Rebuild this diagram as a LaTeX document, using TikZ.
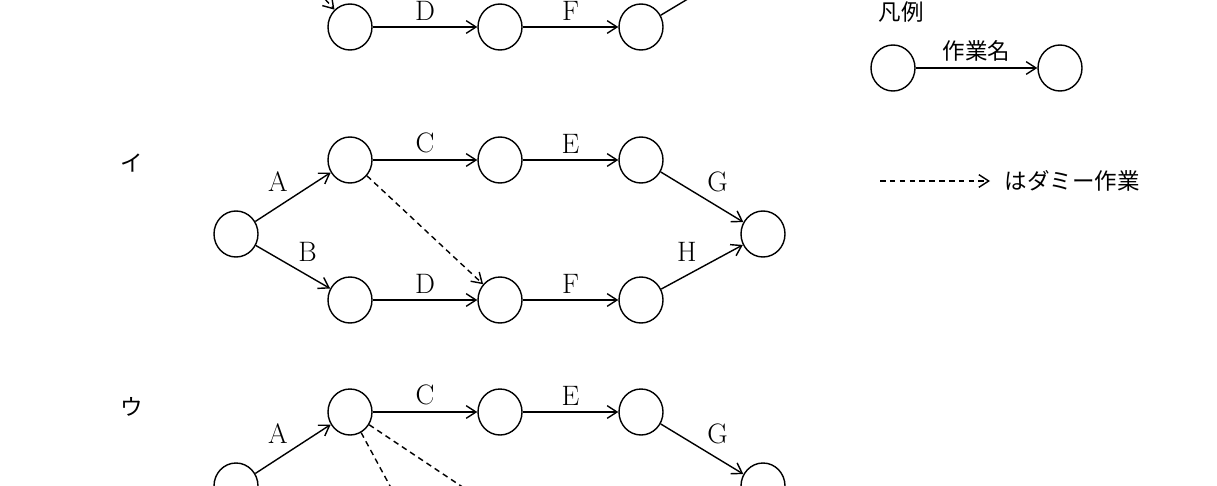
\documentclass[tikz,border=0pt]{standalone}
\usepackage{fontspec}
\newfontfamily\jpfont{Noto Sans CJK JP}
\usetikzlibrary{arrows,arrows.meta,positioning,calc,shapes.geometric}
\tikzset{
  ev/.style={draw, line width=1pt, ellipse, minimum width=1.1cm, minimum height=1.15cm, inner sep=0pt},
  job/.style={-{Straight Barb[length=7pt,width=9pt]}, line width=1pt},
  dummy/.style={-{Straight Barb[length=7pt,width=9pt]}, line width=1pt, dash pattern=on 4pt off 3pt},
  lbl/.style={font=\fontsize{20}{22}\selectfont},
  jlbl/.style={font=\jpfont\fontsize{16}{18}\selectfont}
}
\begin{document}
\begin{tikzpicture}[x=0.025cm,y=-0.025cm]
\useasboundingbox (0,0) rectangle (1217,486);
\clip (0,0) rectangle (1217,486);
% Row a (cut off at the top)
\node[ev] (a0) at (236,-46) {};
\node[ev] (a1) at (290,-40) {};
\node[ev] (a4) at (350,27) {};
\node[ev] (a5) at (500,27) {};
\node[ev] (a6) at (641,27) {};
\node[ev] (a7) at (763,-46) {};
\draw[dummy] (a1) -- (a4);
\draw[job] (a4) -- node[lbl, above=1pt] {D} (a5);
\draw[job] (a5) -- node[lbl, above=1pt] {F} (a6);
\draw[job] (a6) -- (a7);
% Row i
\node[jlbl] at (132,163) {イ};
\node[ev] (i0) at (236,234) {};
\node[ev] (i1) at (350,160) {};
\node[ev] (i2) at (500,160) {};
\node[ev] (i3) at (641,160) {};
\node[ev] (i4) at (350,300) {};
\node[ev] (i5) at (500,300) {};
\node[ev] (i6) at (641,300) {};
\node[ev] (i7) at (763,234) {};
\draw[job] (i0) -- node[lbl, above left=0pt] {A} (i1);
\draw[job] (i0) -- node[lbl, above right=0pt] {B} (i4);
\draw[job] (i1) -- node[lbl, above=1pt] {C} (i2);
\draw[job] (i2) -- node[lbl, above=1pt] {E} (i3);
\draw[job] (i3) -- node[lbl, above right=0pt] {G} (i7);
\draw[job] (i4) -- node[lbl, above=1pt] {D} (i5);
\draw[job] (i5) -- node[lbl, above=1pt] {F} (i6);
\draw[job] (i6) -- node[lbl, above left=0pt] {H} (i7);
\draw[dummy] (i1) -- (i5);
% Row u (cut off at the bottom)
\node[jlbl] at (132,407) {ウ};
\node[ev] (u0) at (236,486) {};
\node[ev] (u1) at (350,412) {};
\node[ev] (u2) at (500,412) {};
\node[ev] (u3) at (641,412) {};
\node[ev] (u5) at (430,560) {};
\node[ev] (u6) at (560,552) {};
\node[ev] (u7) at (763,486) {};
\draw[job] (u0) -- node[lbl, above left=0pt] {A} (u1);
\draw[job] (u1) -- node[lbl, above=1pt] {C} (u2);
\draw[job] (u2) -- node[lbl, above=1pt] {E} (u3);
\draw[job] (u3) -- node[lbl, above right=0pt] {G} (u7);
\draw[dummy] (u1) -- (u5);
\draw[dummy] (u1) -- (u6);
% Legend
\node[jlbl, anchor=west] at (874,12) {凡例};
\node[ev] (l0) at (893,68) {};
\node[ev] (l1) at (1060,68) {};
\draw[job] (l0) -- node[jlbl, above=1pt] {作業名} (l1);
\coordinate (d0) at (880,181);
\coordinate (d1) at (990,181);
\draw[dummy] (d0) -- (d1);
\node[jlbl, anchor=west] at (1000,181) {はダミー作業};
\end{tikzpicture}
\end{document}
